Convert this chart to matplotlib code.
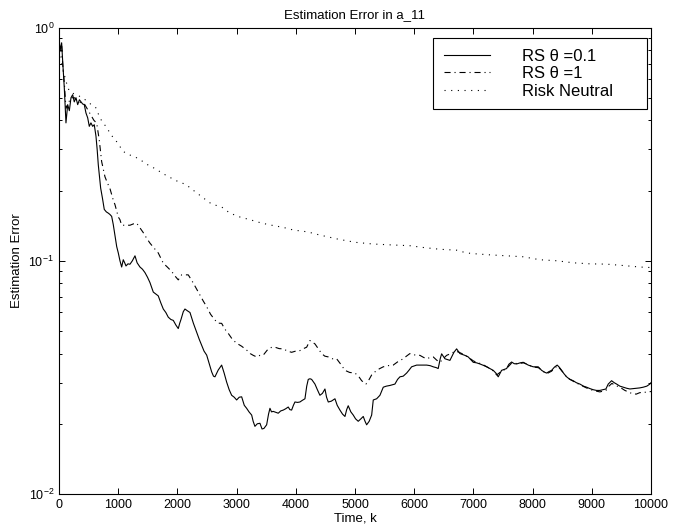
import numpy as np
import matplotlib
matplotlib.use("Agg")
import matplotlib.pyplot as plt
from matplotlib.ticker import MultipleLocator, LogLocator, NullFormatter

plt.rcParams['font.family'] = ['Liberation Sans', 'DejaVu Sans']

# RS theta = 0.1 (solid)
rs01_t = [0, 5, 17, 45, 62, 90, 118, 147, 175, 203, 231, 258, 287, 316, 345, 372, 400,
          427, 456, 485, 512, 540, 569, 596, 625, 645, 664, 704, 735, 765, 800, 833, 860,
          890, 917, 946, 975, 1002, 1030, 1059, 1086, 1110, 1132, 1165, 1199, 1240, 1284,
          1320, 1368, 1410, 1452, 1495, 1537, 1565, 1593, 1635, 1677, 1720, 1762, 1805,
          1846, 1890, 1931, 1975, 2015, 2040, 2061, 2100, 2128, 2170, 2213, 2270, 2326,
          2370, 2410, 2450, 2495, 2540, 2579, 2610, 2635, 2690, 2748, 2790, 2832, 2875,
          2917, 2960, 3001, 3045, 3086, 3130, 3170, 3210, 3255, 3280, 3310, 3350, 3395,
          3430, 3462, 3508, 3540, 3564, 3590, 3620, 3660, 3704, 3745, 3789, 3830, 3873,
          3900, 3930, 3960, 3986, 4030, 4070, 4110, 4155, 4185, 4211, 4240, 4268, 4324,
          4365, 4408, 4450, 4493, 4520, 4549, 4600, 4662, 4700, 4746, 4790, 4831, 4860,
          4886, 4930, 4971, 5010, 5055, 5100, 5140, 5170, 5197, 5240, 5282, 5309, 5366,
          5422, 5478, 5530, 5591, 5675, 5720, 5760, 5815, 5873, 5915, 5957, 6042, 6126,
          6211, 6270, 6322, 6375, 6406, 6440, 6464, 6520, 6604, 6640, 6672, 6717, 6773,
          6857, 6913, 6998, 7055, 7111, 7170, 7224, 7280, 7335, 7380, 7420, 7477, 7562,
          7600, 7646, 7690, 7731, 7790, 7842, 7927, 8011, 8095, 8153, 8200, 8237, 8280,
          8322, 8370, 8416, 8450, 8491, 8530, 8575, 8630, 8686, 8740, 8800, 8860, 8913,
          8970, 9024, 9080, 9137, 9190, 9239, 9278, 9335, 9380, 9420, 9475, 9531, 9590,
          9644, 9700, 9757, 9810, 9869, 9930, 9982, 10000]
rs01_v = [0.75, 0.90, 0.79, 0.86, 0.72, 0.55, 0.39, 0.467, 0.44, 0.50, 0.515, 0.48, 0.50,
          0.467, 0.49, 0.48, 0.47, 0.467, 0.43, 0.41, 0.377, 0.39, 0.377, 0.383, 0.342,
          0.30, 0.258, 0.205, 0.185, 0.166, 0.162, 0.160, 0.158, 0.155, 0.143, 0.128,
          0.115, 0.108, 0.100, 0.094, 0.101, 0.098, 0.095, 0.097, 0.0966, 0.100, 0.105,
          0.098, 0.094, 0.092, 0.089, 0.085, 0.0806, 0.077, 0.0734, 0.072, 0.0707, 0.066,
          0.0621, 0.060, 0.0573, 0.056, 0.0555, 0.053, 0.0512, 0.054, 0.056, 0.0605,
          0.0621, 0.061, 0.060, 0.054, 0.0493, 0.046, 0.0434, 0.041, 0.0394, 0.036,
          0.0334, 0.032, 0.0318, 0.034, 0.0357, 0.033, 0.0302, 0.028, 0.0265, 0.026,
          0.0253, 0.026, 0.0261, 0.024, 0.0233, 0.0225, 0.0218, 0.0205, 0.0195, 0.020,
          0.0201, 0.019, 0.0191, 0.0198, 0.022, 0.0233, 0.0225, 0.0226, 0.0224, 0.0222,
          0.0227, 0.0229, 0.0232, 0.0236, 0.0230, 0.0229, 0.024, 0.0248, 0.0247, 0.0248,
          0.0252, 0.0256, 0.029, 0.031, 0.0312, 0.031, 0.0296, 0.028, 0.0265, 0.027,
          0.0282, 0.026, 0.0248, 0.025, 0.0256, 0.024, 0.0229, 0.022, 0.0215, 0.023,
          0.0239, 0.0225, 0.0218, 0.021, 0.0205, 0.021, 0.0215, 0.0205, 0.0198, 0.0205,
          0.0218, 0.0253, 0.0256, 0.0265, 0.0287, 0.029, 0.0292, 0.0296, 0.031, 0.0318,
          0.032, 0.033, 0.034, 0.0351, 0.0357, 0.0357, 0.0357, 0.0355, 0.0351, 0.0348,
          0.0345, 0.038, 0.0399, 0.038, 0.0374, 0.039, 0.0405, 0.0419, 0.040, 0.0393,
          0.0387, 0.0367, 0.0365, 0.0361, 0.0356, 0.0351, 0.0345, 0.0339, 0.033, 0.0318,
          0.0339, 0.0345, 0.036, 0.0368, 0.0362, 0.0361, 0.0365, 0.0367, 0.0357, 0.0351,
          0.0351, 0.0339, 0.0333, 0.033, 0.0335, 0.0339, 0.035, 0.0357, 0.035, 0.0339,
          0.0328, 0.0318, 0.031, 0.0306, 0.030, 0.0296, 0.029, 0.0287, 0.0283, 0.028,
          0.0278, 0.0278, 0.028, 0.0282, 0.0296, 0.0306, 0.030, 0.0296, 0.029, 0.0287,
          0.0284, 0.0282, 0.0283, 0.0284, 0.0285, 0.0287, 0.029, 0.0296, 0.030]

# RS theta = 1 (dash-dot)
rs1_t = [0, 17, 45, 62, 90, 118, 150, 203, 260, 330, 430, 495, 540, 590, 637, 680, 721,
         777, 820, 861, 917, 946, 1002, 1030, 1059, 1143, 1199, 1260, 1312, 1370, 1424,
         1480, 1537, 1610, 1677, 1762, 1830, 1903, 1960, 2015, 2072, 2130, 2184, 2268,
         2320, 2381, 2440, 2494, 2560, 2634, 2690, 2748, 2800, 2860, 2930, 3001, 3086,
         3170, 3230, 3282, 3339, 3395, 3451, 3535, 3590, 3648, 3720, 3789, 3860, 3930,
         4000, 4070, 4130, 4184, 4239, 4324, 4380, 4437, 4490, 4549, 4620, 4690, 4760,
         4831, 4910, 5000, 5060, 5113, 5185, 5240, 5282, 5366, 5420, 5478, 5560, 5646,
         5730, 5815, 5870, 5928, 6000, 6097, 6160, 6211, 6270, 6322, 6380, 6435, 6490,
         6548, 6620, 6700, 6760, 6850, 6920, 7000, 7055, 7150, 7280, 7350, 7393, 7470,
         7560, 7650, 7750, 7850, 7930, 8011, 8100, 8160, 8240, 8320, 8420, 8490, 8580,
         8690, 8800, 8910, 9020, 9137, 9239, 9290, 9340, 9400, 9475, 9560, 9673, 9750,
         9813, 9900, 10000]
rs1_v = [0.75, 0.82, 0.85, 0.70, 0.58, 0.45, 0.47, 0.50, 0.50, 0.48, 0.47, 0.44, 0.42,
         0.40, 0.389, 0.33, 0.266, 0.229, 0.215, 0.204, 0.182, 0.174, 0.154, 0.150, 0.142,
         0.142, 0.142, 0.144, 0.145, 0.138, 0.132, 0.125, 0.119, 0.113, 0.108, 0.0976,
         0.094, 0.090, 0.086, 0.0828, 0.087, 0.087, 0.087, 0.0803, 0.076, 0.0714, 0.067,
         0.0636, 0.059, 0.0557, 0.054, 0.0539, 0.051, 0.0488, 0.046, 0.0443, 0.043,
         0.0414, 0.040, 0.0393, 0.0387, 0.0393, 0.0394, 0.0419, 0.0425, 0.0426, 0.042,
         0.0419, 0.041, 0.0405, 0.041, 0.0412, 0.042, 0.0426, 0.0455, 0.044, 0.042, 0.040,
         0.039, 0.0387, 0.038, 0.038, 0.036, 0.0339, 0.0332, 0.033, 0.032, 0.0306, 0.0296,
         0.031, 0.0324, 0.0339, 0.0345, 0.0351, 0.0355, 0.0357, 0.037, 0.038, 0.039, 0.040,
         0.0395, 0.0393, 0.0385, 0.038, 0.0385, 0.0387, 0.0375, 0.0367, 0.038, 0.0393,
         0.040, 0.041, 0.0405, 0.0395, 0.0385, 0.0372, 0.0367, 0.036, 0.0345, 0.0335,
         0.0324, 0.0335, 0.0345, 0.0365, 0.0362, 0.0365, 0.0358, 0.035, 0.0348, 0.0338,
         0.0328, 0.0336, 0.0355, 0.0338, 0.0316, 0.0304, 0.0294, 0.0285, 0.0278, 0.0274,
         0.0278, 0.029, 0.0298, 0.0292, 0.0287, 0.0278, 0.027, 0.0268, 0.0272, 0.0273,
         0.0275]

# Risk neutral (dotted)
rn_t = [0, 30, 62, 118, 174, 250, 330, 411, 512, 552, 625, 681, 740, 794, 878, 974, 1086,
        1180, 1284, 1400, 1508, 1566, 1660, 1762, 1870, 1988, 2072, 2157, 2297, 2437,
        2579, 2748, 2888, 3057, 3226, 3424, 3592, 3789, 3957, 4100, 4200, 4400, 4700,
        5000, 5300, 5591, 5928, 6153, 6435, 6717, 6886, 7055, 7280, 7562, 7842, 8124,
        8406, 8686, 8969, 9250, 9531, 9813, 10000]
rn_v = [0.80, 0.76, 0.67, 0.588, 0.533, 0.52, 0.51, 0.497, 0.475, 0.465, 0.452, 0.416,
        0.39, 0.377, 0.347, 0.324, 0.294, 0.285, 0.279, 0.268, 0.257, 0.253, 0.245, 0.236,
        0.228, 0.220, 0.216, 0.211, 0.198, 0.186, 0.175, 0.170, 0.160, 0.154, 0.150, 0.145,
        0.142, 0.139, 0.1355, 0.134, 0.133, 0.129, 0.124, 0.120, 0.118, 0.117, 0.116,
        0.114, 0.112, 0.111, 0.108, 0.107, 0.106, 0.105, 0.104, 0.101, 0.100, 0.098,
        0.097, 0.0967, 0.0954, 0.094, 0.0935]

fig = plt.figure(figsize=(6.85, 5.28), dpi=100)
ax = fig.add_axes([0.0861, 0.0644, 0.8642, 0.8835])

ax.plot(rs01_t, rs01_v, color='black', lw=0.8, linestyle='-', label='RS θ =0.1')
ax.plot(rs1_t, rs1_v, color='black', lw=0.8, linestyle=(0, (5.5, 3.5, 1, 3.5)), label='RS θ =1')
ax.plot(rn_t, rn_v, color='black', lw=0.8, linestyle=(0, (1, 5)), label='Risk Neutral')

ax.set_yscale('log')
ax.set_xlim(0, 10000)
ax.set_ylim(1e-2, 1e0)
ax.xaxis.set_major_locator(MultipleLocator(1000))
ax.yaxis.set_major_locator(LogLocator(base=10))
ax.yaxis.set_minor_locator(LogLocator(base=10, subs=np.arange(2, 10)))
ax.yaxis.set_minor_formatter(NullFormatter())

ax.tick_params(which='both', direction='in', top=True, right=True, labelsize=9, width=0.7)
ax.tick_params(which='major', length=4)
ax.tick_params(which='minor', length=2.5)
for s in ax.spines.values():
    s.set_linewidth(0.8)

ax.set_title('Estimation Error in a_11', fontsize=9.5, pad=7)
ax.set_xlabel('Time, k', fontsize=9.5, labelpad=1)
ax.set_ylabel('Estimation Error', fontsize=9.5, labelpad=4)

leg = ax.legend(loc='upper left', bbox_to_anchor=(0.632, 0.785, 0.361, 0.1925), mode='expand',
                fontsize=12, frameon=True, fancybox=False, framealpha=1, edgecolor='black',
                handlelength=2.8, handletextpad=1.9, labelspacing=0.15, borderpad=0.63,
                borderaxespad=0)
leg.get_frame().set_linewidth(0.8)

fig.savefig('out.png', dpi=100)
